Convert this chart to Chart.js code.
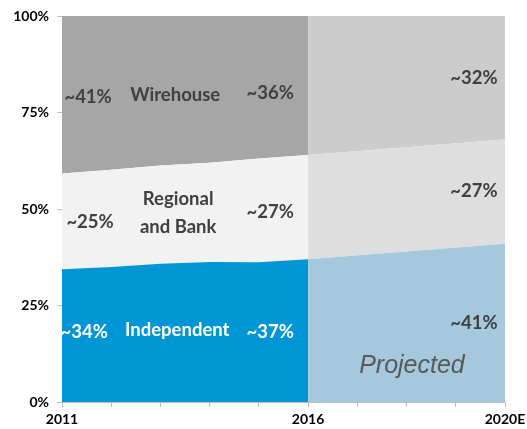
<!DOCTYPE html>
<html>
<head>
<meta charset="utf-8">
<script src="https://cdn.jsdelivr.net/npm/chart.js@4/dist/chart.umd.min.js"></script>
<style>
  html, body { margin: 0; padding: 0; background: #ffffff; }
  #wrap { width: 527px; height: 429px; position: relative; }
</style>
</head>
<body>
<div id="wrap"><canvas id="c"></canvas></div>
<script>
// ---- data (shares in %) ----
const histYears = [2011, 2012, 2013, 2014, 2015, 2016];
const histIndependent = [34.4, 35.0, 35.8, 36.3, 36.2, 37.0];
const histRegional = [24.8, 25.2, 25.5, 25.7, 26.9, 27.0];
const histWirehouse = [40.8, 39.8, 38.7, 38.0, 36.9, 36.0];

const projYears = [2016, 2020];
const projIndependent = [37, 41];
const projRegional = [27, 27];
const projWirehouse = [36, 32];

const tickYears = [2011, 2016, 2020];
const tickLabels = ['2011', '2016', '2020E'];
const yTickLabels = ['0%', '25%', '50%', '75%', '100%'];

const seriesNames = ['Independent', 'Regional\nand Bank', 'Wirehouse'];
const histShareLabels = { start: ['~34%', '~25%', '~41%'], end: ['~37%', '~27%', '~36%'] };
const projShareLabels = ['~41%', '~27%', '~32%'];
const projectedText = 'Projected';

// ---- build cumulative lines for the library ----
function cum(years, a, b, c) {
  const l1 = [], l2 = [], l3 = [];
  years.forEach((yr, i) => {
    l1.push({ x: yr, y: a[i] });
    l2.push({ x: yr, y: a[i] + b[i] });
    l3.push({ x: yr, y: a[i] + b[i] + c[i] });
  });
  return [l1, l2, l3];
}
const [hI, hR, hW] = cum(histYears, histIndependent, histRegional, histWirehouse);
const [pI, pR, pW] = cum(projYears, projIndependent, projRegional, projWirehouse);

function ds(data, color, fill) {
  return { data, backgroundColor: color, borderColor: color, borderWidth: 0,
           pointRadius: 0, fill, tension: 0 };
}

const labelFont = 'bold 18.5px Lato, "Open Sans", sans-serif';
const labelsPlugin = {
  id: 'labels',
  afterDatasetsDraw(chart) {
    const ctx = chart.ctx, xs = chart.scales.x, ys = chart.scales.y;
    const P = (x, y) => [xs.getPixelForValue(x), ys.getPixelForValue(y)];
    function t(txt, x, y, color, font, align) {
      const [px, py] = P(x, y);
      ctx.save();
      ctx.font = font; ctx.fillStyle = color;
      ctx.textAlign = align || 'center'; ctx.textBaseline = 'middle';
      ctx.fillText(txt, px, py);
      ctx.restore();
    }
    const dark = '#404040';
    // Wirehouse row
    t(histShareLabels.start[2], 2011.53, 79.0, dark, labelFont);
    t('Wirehouse', 2013.3, 79.5, dark, labelFont);
    t(histShareLabels.end[2], 2015.23, 80.1, dark, labelFont);
    t(projShareLabels[2], 2019.85, 83.9, dark, labelFont, 'right');
    // Regional row
    const rl = seriesNames[1].split('\n');
    t(rl[0], 2013.36, 52.6, dark, labelFont);
    t(rl[1], 2013.36, 45.3, dark, labelFont);
    t(histShareLabels.start[1], 2011.57, 46.6, dark, labelFont);
    t(histShareLabels.end[1], 2015.23, 49.2, dark, labelFont);
    t(projShareLabels[1], 2019.85, 54.7, dark, labelFont, 'right');
    // Independent row
    t(histShareLabels.start[0], 2011.45, 18.1, '#ffffff', labelFont);
    t(seriesNames[0], 2013.34, 18.7, '#ffffff', labelFont);
    t(histShareLabels.end[0], 2015.23, 18.1, '#ffffff', labelFont);
    t(projShareLabels[0], 2019.85, 20.5, dark, labelFont, 'right');
    t(projectedText, 2018.11, 9.3, '#595959', 'italic 25px "Liberation Sans", Arial, sans-serif');
  }
};

new Chart(document.getElementById('c'), {
  type: 'line',
  data: {
    datasets: [
      ds(hI, '#0096D6', 'origin'),
      ds(hR, '#F2F2F2', '-1'),
      ds(hW, '#A6A6A6', '-1'),
      ds(pI, '#A5C8DC', 'origin'),
      ds(pR, '#DEDEDE', '-1'),
      ds(pW, '#CCCCCC', '-1')
    ]
  },
  options: {
    responsive: true,
    maintainAspectRatio: false,
    animation: false,
    layout: { padding: { top: 16, right: 22, left: 0, bottom: 0 } },
    plugins: { legend: { display: false }, tooltip: { enabled: false } },
    scales: {
      x: {
        type: 'linear', min: 2011, max: 2020,
        afterFit(s) { s.height = 27; s.paddingLeft = 0; s.paddingRight = 0; },
        afterBuildTicks(s) { s.ticks = []; for (let v = 2011; v <= 2020; v++) s.ticks.push({ value: v }); },
        ticks: {
          autoSkip: false, maxRotation: 0, padding: 4,
          color: '#000000', font: { family: 'Lato, "Open Sans", sans-serif', weight: 'bold', size: 14 },
          callback(v) { const i = tickYears.indexOf(v); return i >= 0 ? tickLabels[i] : ''; }
        },
        grid: { drawOnChartArea: false, drawTicks: true, tickLength: 5, color: '#BFBFBF' },
        border: { color: '#BFBFBF', width: 1 }
      },
      y: {
        min: 0, max: 100,
        afterFit(s) { s.width = 62; s.paddingTop = 0; s.paddingBottom = 0; },
        ticks: {
          stepSize: 25, padding: 8,
          color: '#000000', font: { family: 'Lato, "Open Sans", sans-serif', weight: 'bold', size: 14 },
          callback(v) { return yTickLabels[v / 25]; }
        },
        grid: { drawOnChartArea: false, drawTicks: true, tickLength: 5, color: '#BFBFBF' },
        border: { color: '#BFBFBF', width: 1 }
      }
    }
  },
  plugins: [labelsPlugin]
});
</script>
</body>
</html>
